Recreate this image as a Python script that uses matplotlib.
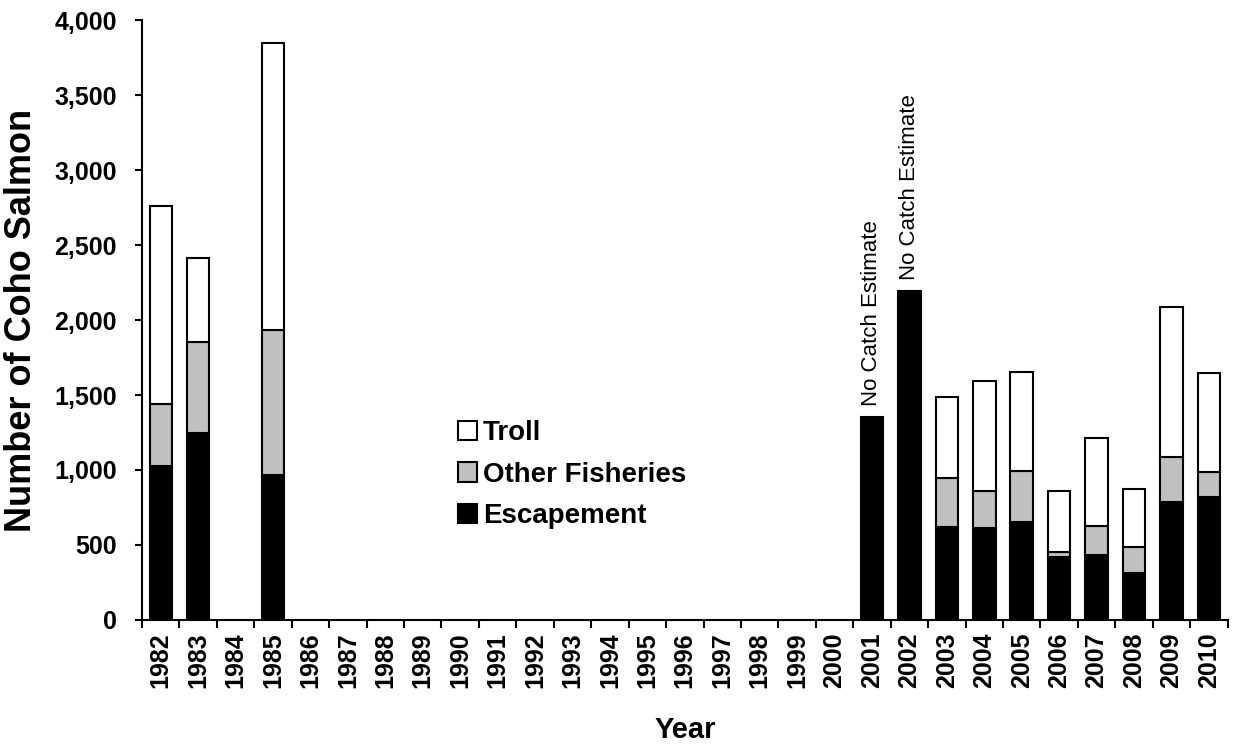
import matplotlib.pyplot as plt
import numpy as np

plt.rcParams['font.family'] = ['Liberation Sans', 'DejaVu Sans']

# Coho salmon counts per year (NaN = no data)
years = list(range(1982, 2011))
nan = np.nan
escapement = [1027, 1249, nan, 967] + [nan] * 15 + [1356, 2195, 622, 611, 656, 418, 433, 316, 789, 822]
other_fisheries = [411, 607, nan, 966] + [nan] * 15 + [nan, nan, 327, 249, 340, 38, 196, 168, 300, 162]
troll = [1322, 555, nan, 1914] + [nan] * 15 + [nan, nan, 540, 733, 657, 402, 582, 392, 1000, 660]
no_catch_years = [2001, 2002]

esc = np.array(escapement, dtype=float)
oth = np.array(other_fisheries, dtype=float)
trl = np.array(troll, dtype=float)
x = np.arange(len(years))

fig = plt.figure(figsize=(12.35, 7.46), dpi=100)
ax = fig.add_axes([0.115, 0.169, 0.879, 0.804])

w = 0.6
m = ~np.isnan(esc)
ax.bar(x[m], esc[m], width=w, color='black', edgecolor='black', linewidth=1.5, label='Escapement')
m2 = ~np.isnan(oth)
ax.bar(x[m2], oth[m2], width=w, bottom=esc[m2], color='#c0c0c0', edgecolor='black', linewidth=1.5,
       label='Other Fisheries')
m3 = ~np.isnan(trl)
ax.bar(x[m3], trl[m3], width=w, bottom=esc[m3] + oth[m3], color='white', edgecolor='black', linewidth=1.5,
       label='Troll')

# "No Catch Estimate" notes above bars with only escapement
for yr in no_catch_years:
    i = years.index(yr)
    ax.text(x[i], esc[i] + 70, 'No Catch Estimate', rotation=90, ha='center', va='bottom', fontsize=16)

ax.set_xlim(-0.5, len(years) - 0.5)
ax.set_ylim(0, 4000)
ax.set_yticks(np.arange(0, 4001, 500))
ax.set_yticklabels([f'{v:,}' for v in range(0, 4001, 500)], fontsize=18, fontweight='bold')
ax.set_xticks(x)
ax.set_xticklabels([str(y) for y in years], rotation=90, fontsize=18, fontweight='bold')
ax.set_xticks(np.arange(-0.5, len(years)), minor=True)
ax.tick_params(axis='x', which='major', length=0, pad=9)
ax.tick_params(axis='x', which='minor', length=6, width=1.5, direction='out')
ax.tick_params(axis='y', length=5, width=1.5, direction='out', pad=13)

for s in ['top', 'right']:
    ax.spines[s].set_visible(False)
for s in ['left', 'bottom']:
    ax.spines[s].set_linewidth(1.5)

ax.set_xlabel('Year', fontsize=21, fontweight='bold')
ax.xaxis.set_label_coords(0.5, -0.16)
ax.set_ylabel('Number of Coho Salmon', fontsize=26, fontweight='bold')
ax.yaxis.set_label_coords(-0.095, 0.5)

h, l = ax.get_legend_handles_labels()
ax.legend(h[::-1], l[::-1], loc='upper left', bbox_to_anchor=(0.273, 0.365), frameon=False,
          prop={'size': 20, 'weight': 'bold'}, handlelength=0.7, handleheight=0.7, handletextpad=0.2,
          labelspacing=0.55, borderpad=0.2)

fig.savefig('out.png', dpi=100)
